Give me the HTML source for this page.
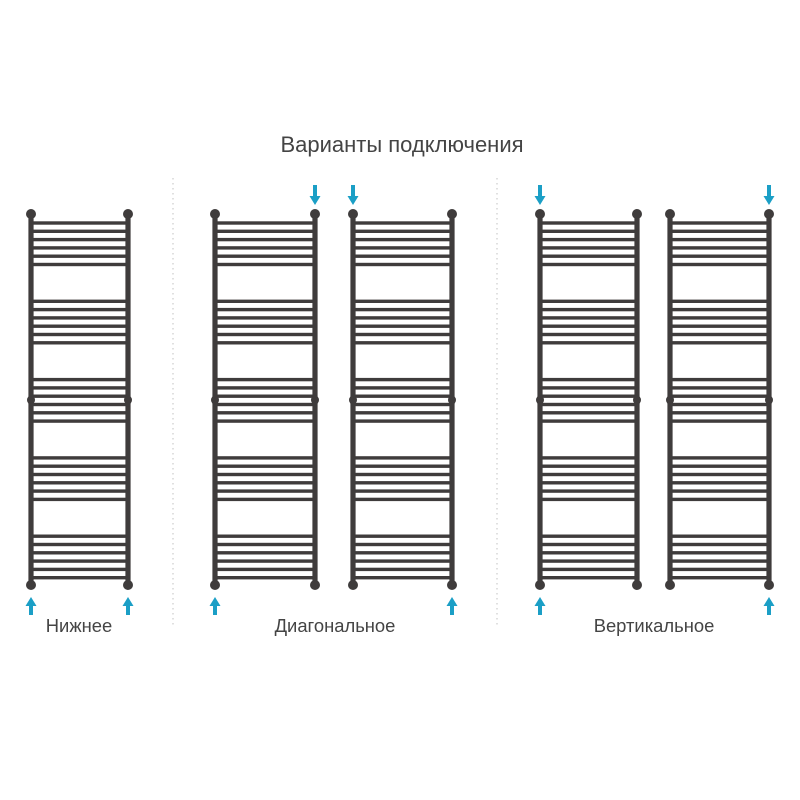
<!DOCTYPE html>
<html><head><meta charset="utf-8"><style>
html,body{margin:0;padding:0;background:#fff;width:800px;height:800px;overflow:hidden}
svg{display:block}
text{font-family:"Liberation Sans","DejaVu Sans",sans-serif;fill:#444}
</style></head><body>
<svg id="s" width="800" height="800" xmlns="http://www.w3.org/2000/svg">
<text x="402" y="152" font-size="22" text-anchor="middle">Варианты подключения</text>
<line x1="173" y1="178" x2="173" y2="626" stroke="#ccc" stroke-width="1.2" stroke-dasharray="1.5,3.5"/>
<line x1="497" y1="178" x2="497" y2="626" stroke="#ccc" stroke-width="1.2" stroke-dasharray="1.5,3.5"/>
<text x="79" y="632" font-size="18.4" text-anchor="middle">Нижнее</text>
<text x="335" y="632" font-size="18.4" text-anchor="middle">Диагональное</text>
<text x="654" y="632" font-size="18.4" text-anchor="middle">Вертикальное</text>
<g id="g"></g>
</svg>
<script>
(function(){
var units=[[31,128],[215,315],[353,452],[540,637],[670,769]];
var topA=[315,353,540,769], botA=[31,128,215,452,540,769];
var h='';
var C='#3f3c3c';
units.forEach(function(u){
  var a=u[0],b=u[1];
  for(var g=0;g<5;g++){
    var y0=223+g*78.3;
    for(var i=0;i<6;i++){
      var y=y0+i*8.3;
      h+='<rect x="'+a+'" y="'+(y-1.7)+'" width="'+(b-a)+'" height="3.4" fill="'+C+'"/>';
    }
  }
  [a,b].forEach(function(x){
    h+='<rect x="'+(x-2.6)+'" y="214" width="5.2" height="371" fill="'+C+'"/>';
    h+='<circle cx="'+x+'" cy="214" r="5" fill="'+C+'"/>';
    h+='<circle cx="'+x+'" cy="585" r="5" fill="'+C+'"/>';
    h+='<ellipse cx="'+x+'" cy="400" rx="4" ry="4.5" fill="'+C+'"/>';
  });
});
var B='#1b9fc6';
topA.forEach(function(x){
  h+='<rect x="'+(x-2)+'" y="185" width="4" height="13" fill="'+B+'"/>';
  h+='<polygon points="'+(x-5.5)+',196 '+(x+5.5)+',196 '+x+',205" fill="'+B+'"/>';
});
botA.forEach(function(x){
  h+='<rect x="'+(x-2)+'" y="604" width="4" height="11" fill="'+B+'"/>';
  h+='<polygon points="'+(x-5.5)+',606 '+(x+5.5)+',606 '+x+',597" fill="'+B+'"/>';
});
document.getElementById('g').innerHTML=h;
})();
</script>
</body></html>
